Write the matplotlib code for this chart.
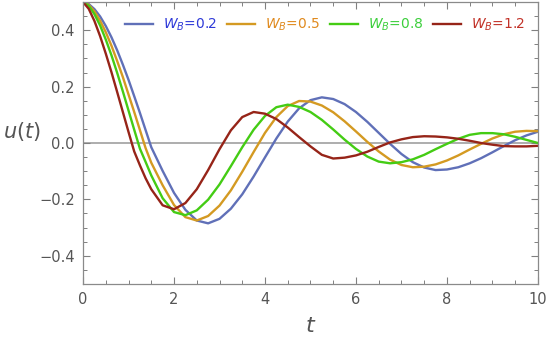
import matplotlib
matplotlib.use('Agg')
from matplotlib import pyplot as plt
from matplotlib.ticker import MultipleLocator

# values (u(t) for each W_B)
t = [0.0, 0.125, 0.25, 0.375, 0.5, 0.625, 0.75, 0.875, 1.0, 1.125, 1.25, 1.375, 1.5,
     1.75, 2.0, 2.25, 2.5, 2.75, 3.0, 3.25, 3.5, 3.75, 4.0, 4.25, 4.5, 4.75, 5.0, 5.25, 5.5,
     5.75, 6.0, 6.25, 6.5, 6.75, 7.0, 7.25, 7.5, 7.75, 8.0, 8.25, 8.5, 8.75, 9.0, 9.25, 9.5,
     9.75, 10.0]

u_02 = [0.5, 0.493, 0.475, 0.449, 0.415, 0.375, 0.329, 0.278, 0.224, 0.166, 0.107, 0.046, -0.015,
        -0.099, -0.177, -0.237, -0.275, -0.285, -0.269, -0.233, -0.182, -0.119, -0.051, 0.016,
        0.076, 0.123, 0.152, 0.162, 0.156, 0.138, 0.11, 0.075, 0.036, -0.003, -0.039, -0.068,
        -0.087, -0.096, -0.094, -0.086, -0.072, -0.054, -0.033, -0.011, 0.01, 0.027, 0.04]

u_05 = [0.5, 0.49, 0.467, 0.434, 0.393, 0.345, 0.291, 0.234, 0.172, 0.11, 0.046, -0.018, -0.07,
        -0.15, -0.22, -0.263, -0.275, -0.259, -0.222, -0.168, -0.102, -0.032, 0.036, 0.092,
        0.131, 0.149, 0.147, 0.133, 0.109, 0.077, 0.041, 0.004, -0.03, -0.059, -0.078, -0.086,
        -0.084, -0.076, -0.062, -0.044, -0.023, -0.003, 0.016, 0.031, 0.04, 0.043, 0.042]

u_08 = [0.5, 0.487, 0.457, 0.417, 0.367, 0.311, 0.249, 0.183, 0.115, 0.047, -0.02, -0.067, -0.115,
        -0.196, -0.245, -0.256, -0.239, -0.201, -0.147, -0.082, -0.015, 0.047, 0.096, 0.127,
        0.136, 0.128, 0.11, 0.082, 0.048, 0.012, -0.021, -0.048, -0.066, -0.072, -0.068, -0.058,
        -0.042, -0.022, -0.003, 0.015, 0.029, 0.035, 0.035, 0.031, 0.022, 0.011, 0.0]

u_12 = [0.5, 0.476, 0.433, 0.379, 0.317, 0.251, 0.181, 0.11, 0.039, -0.03, -0.079, -0.125, -0.164,
        -0.221, -0.235, -0.213, -0.164, -0.096, -0.022, 0.045, 0.092, 0.11, 0.104, 0.085,
        0.055, 0.021, -0.012, -0.042, -0.055, -0.052, -0.044, -0.031, -0.014, 0.002, 0.013,
        0.021, 0.024, 0.023, 0.02, 0.015, 0.008, 0.0, -0.006, -0.011, -0.012, -0.012, -0.01]

labels = [r'$W_B$=0.2', r'$W_B$=0.5', r'$W_B$=0.8', r'$W_B$=1.2']
line_colors = ['#6070b8', '#d49a22', '#44cc14', '#962418']
text_colors = ['#2f3ad8', '#e08a1e', '#3ccf3c', '#c23228']

fig = plt.figure(figsize=(5.5, 3.45), dpi=100)
ax = fig.add_axes([0.151, 0.177, 0.827, 0.817])

# zero line
ax.axhline(0, color='#a0a0a0', lw=1.2, zorder=1)

for u, c, lab in zip([u_02, u_05, u_08, u_12], line_colors, labels):
    ax.plot(t, u, color=c, lw=1.7, label=lab, zorder=2)

ax.set_xlim(0, 10)
ax.set_ylim(-0.5, 0.5)
ax.xaxis.set_major_locator(MultipleLocator(2))
ax.xaxis.set_minor_locator(MultipleLocator(0.5))
ax.yaxis.set_major_locator(MultipleLocator(0.2))
ax.yaxis.set_minor_locator(MultipleLocator(0.05))
ax.set_yticks([-0.4, -0.2, 0.0, 0.2, 0.4])
ax.set_yticklabels(['\u22120.4', '\u22120.2', '0.0', '0.2', '0.4'])

ax.tick_params(which='both', direction='in', top=True, right=True, color='#808080',
               labelcolor='#555555', labelsize=10.5)
ax.tick_params(which='major', length=5, width=0.8, pad=6)
ax.tick_params(which='minor', length=2.8, width=0.7)
for s in ax.spines.values():
    s.set_color('#8a8a8a')
    s.set_linewidth(0.9)

ax.set_xlabel('$t$', fontsize=16, color='#555555', labelpad=6)
ax.set_ylabel('$u(t)$', fontsize=15, color='#555555', rotation=0)
ax.yaxis.set_label_coords(-0.135, 0.5)

leg = ax.legend(loc='center left', bbox_to_anchor=(0.092, 0.918), ncol=4, frameon=False,
                fontsize=10, handlelength=2.0, handletextpad=0.72, columnspacing=0.72,
                borderpad=0, borderaxespad=0, labelcolor=text_colors)

fig.savefig('out.png', dpi=100)
